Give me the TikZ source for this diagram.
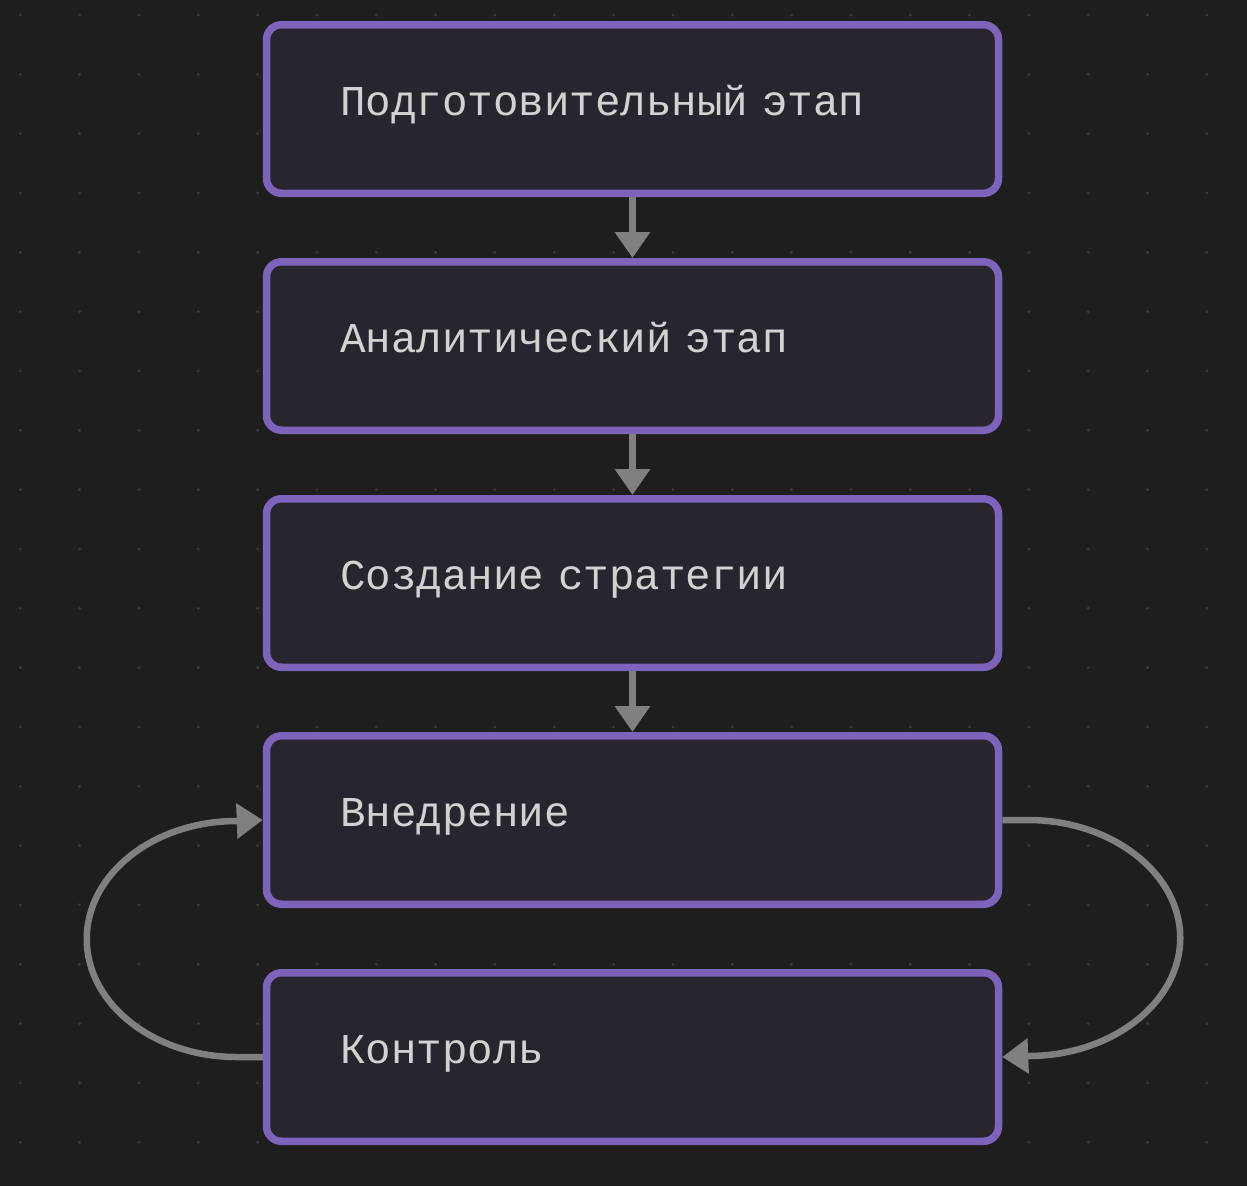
\documentclass[tikz,border=0pt]{standalone}
\usepackage{fontspec}
\setmonofont{Liberation Mono}
\usetikzlibrary{arrows.meta}
\definecolor{bgc}{HTML}{1E1E1E}
\definecolor{dotc}{HTML}{3A3A3A}
\definecolor{boxfill}{HTML}{28252F}
\definecolor{boxline}{HTML}{7E63BA}
\definecolor{txtc}{HTML}{D2D2D2}
\definecolor{arrc}{HTML}{808080}
\tikzset{
  stage/.style={draw=boxline, fill=boxfill, line width=7.5pt, rounded corners=15pt,
    minimum width=732pt, minimum height=168.5pt, inner xsep=0pt, inner ysep=0pt,
    text width=585pt, align=left, text height=20pt, text depth=7pt,
    font=\ttfamily\fontsize{42.5pt}{48pt}\selectfont, text=txtc},
  flow/.style={draw=arrc, line width=6.5pt, -{Triangle[length=26pt,width=34pt]}},
}
\begin{document}
\begin{tikzpicture}[x=1pt,y=-1pt]
\fill[bgc] (0,0) rectangle (1247,1186);
\useasboundingbox (0,0) rectangle (1247,1186);
\foreach \i in {0,...,20}{
  \foreach \j in {0,...,19}{
    \fill[dotc] ({20.3+59.33*\i},{15+59.33*\j}) circle[radius=1.6pt];
  }
}
\node[stage] (prep) at (632.5,109) {Подготовительный этап};
\node[stage] (anal) at (632.5,346) {Аналитический этап};
\node[stage] (strat) at (632.5,583) {Создание стратегии};
\node[stage] (impl) at (632.5,820) {Внедрение};
\node[stage] (ctrl) at (632.5,1057) {Контроль};
\draw[flow] (prep.south) -- (anal.north);
\draw[flow] (anal.south) -- (strat.north);
\draw[flow] (strat.south) -- (impl.north);
\draw[flow] (ctrl.west) -- ++(-26,0) .. controls +(-83,0) and +(0,65) .. ++(-150,-118)
  .. controls +(0,-65) and +(-83,0) .. ++(150,-118) -- (impl.west);
\draw[flow] (impl.east) -- ++(26,0) .. controls +(83,0) and +(0,-65) .. ++(152,118)
  .. controls +(0,65) and +(83,0) .. ++(-152,118) -- (ctrl.east);
\end{tikzpicture}
\end{document}
